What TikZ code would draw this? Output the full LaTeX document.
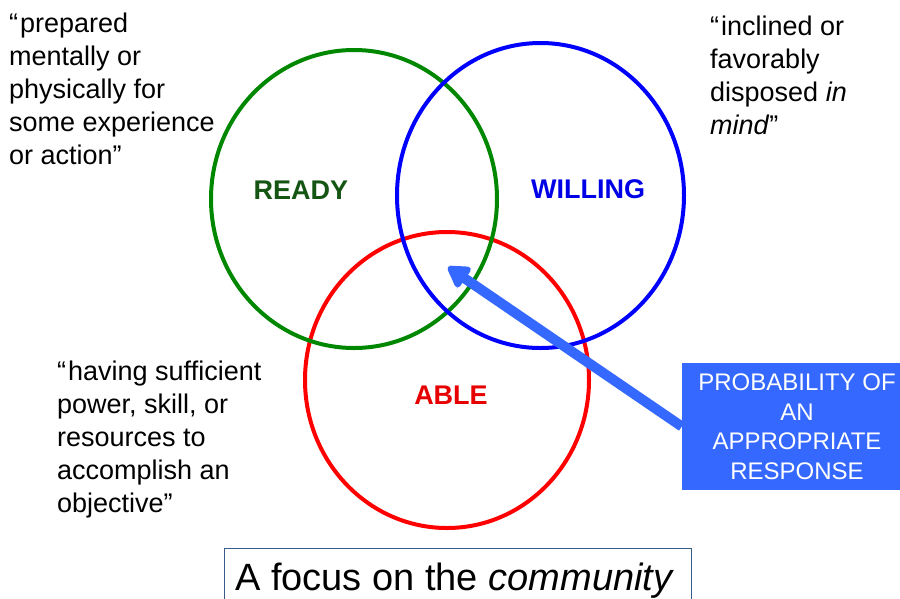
\documentclass[tikz,border=0pt]{standalone}
\usepackage{fontspec}
\setmainfont{Liberation Sans}
\usetikzlibrary{arrows.meta}
\definecolor{cgreen}{RGB}{0,135,0}
\definecolor{cready}{RGB}{20,85,20}
\definecolor{cblue}{RGB}{0,0,255}
\definecolor{cwill}{RGB}{0,0,230}
\definecolor{cred}{RGB}{255,0,0}
\definecolor{cable}{RGB}{230,0,0}
\definecolor{pbox}{RGB}{52,104,255}
\definecolor{capline}{RGB}{56,93,138}
\tikzset{
  ring/.style={line width=4pt},
  quotetext/.style={anchor=north west, inner sep=0pt, align=left, font=\fontsize{27}{33}\selectfont},
  setlabel/.style={inner sep=0pt, font=\fontsize{27}{31}\selectfont\bfseries},
  probbox/.style={fill=pbox, text=white, align=center, inner sep=0pt,
    minimum width=230pt, minimum height=127pt, font=\fontsize{24}{29.5}\selectfont},
  bigarrow/.style={draw=pbox, line width=10pt, -{Triangle[length=24pt,width=27pt,round]}},
  capframe/.style={draw=capline, line width=1pt, minimum width=467pt, minimum height=80pt, inner sep=0pt},
}
\newcommand{\oq}{“\kern2pt}
\begin{document}
\begin{tikzpicture}[x=1pt,y=-1pt]
\useasboundingbox (0,0) rectangle (900,598);
\begin{scope}
\clip (0,0) rectangle (900,598);
% circles
\draw[ring, cred] (447,380) ellipse [x radius=142, y radius=148];
\draw[ring, cgreen] (354,199) ellipse [x radius=143, y radius=149];
\draw[ring, cblue] (540.5,195.5) ellipse [x radius=143.5, y radius=152.5];
% labels
\node[setlabel, text=cready] (ready) at (301,190) {READY};
\node[setlabel, text=cwill] (willing) at (588,189) {WILLING};
\node[setlabel, text=cable] (able) at (451,395) {ABLE};
% definitions
\node[quotetext] (qready) at (9,12.5) {\oq prepared\\mentally or\\physically for\\some experience\\or action”};
\node[quotetext] (qwill) at (710,16) {\oq inclined or\\favorably\\disposed \textit{in}\\\textit{mind}”};
\node[quotetext] (qable) at (57,361) {\oq having sufficient\\power, skill, or\\resources to\\accomplish an\\objective”};
% probability box and arrow
\node[probbox] (prob) at (797,426.5) {PROBABILITY OF\\AN\\APPROPRIATE\\RESPONSE};
\coordinate (tgt) at (448,267);
\draw[bigarrow] (prob.west) -- (tgt);
% caption
\node[capframe, anchor=north west] (capbox) at (224,548) {};
\node[anchor=base west, inner sep=0pt, font=\fontsize{38}{42}\selectfont] (captext) at (235,590) {A focus on the \textit{community}};
\end{scope}
\end{tikzpicture}
\end{document}
